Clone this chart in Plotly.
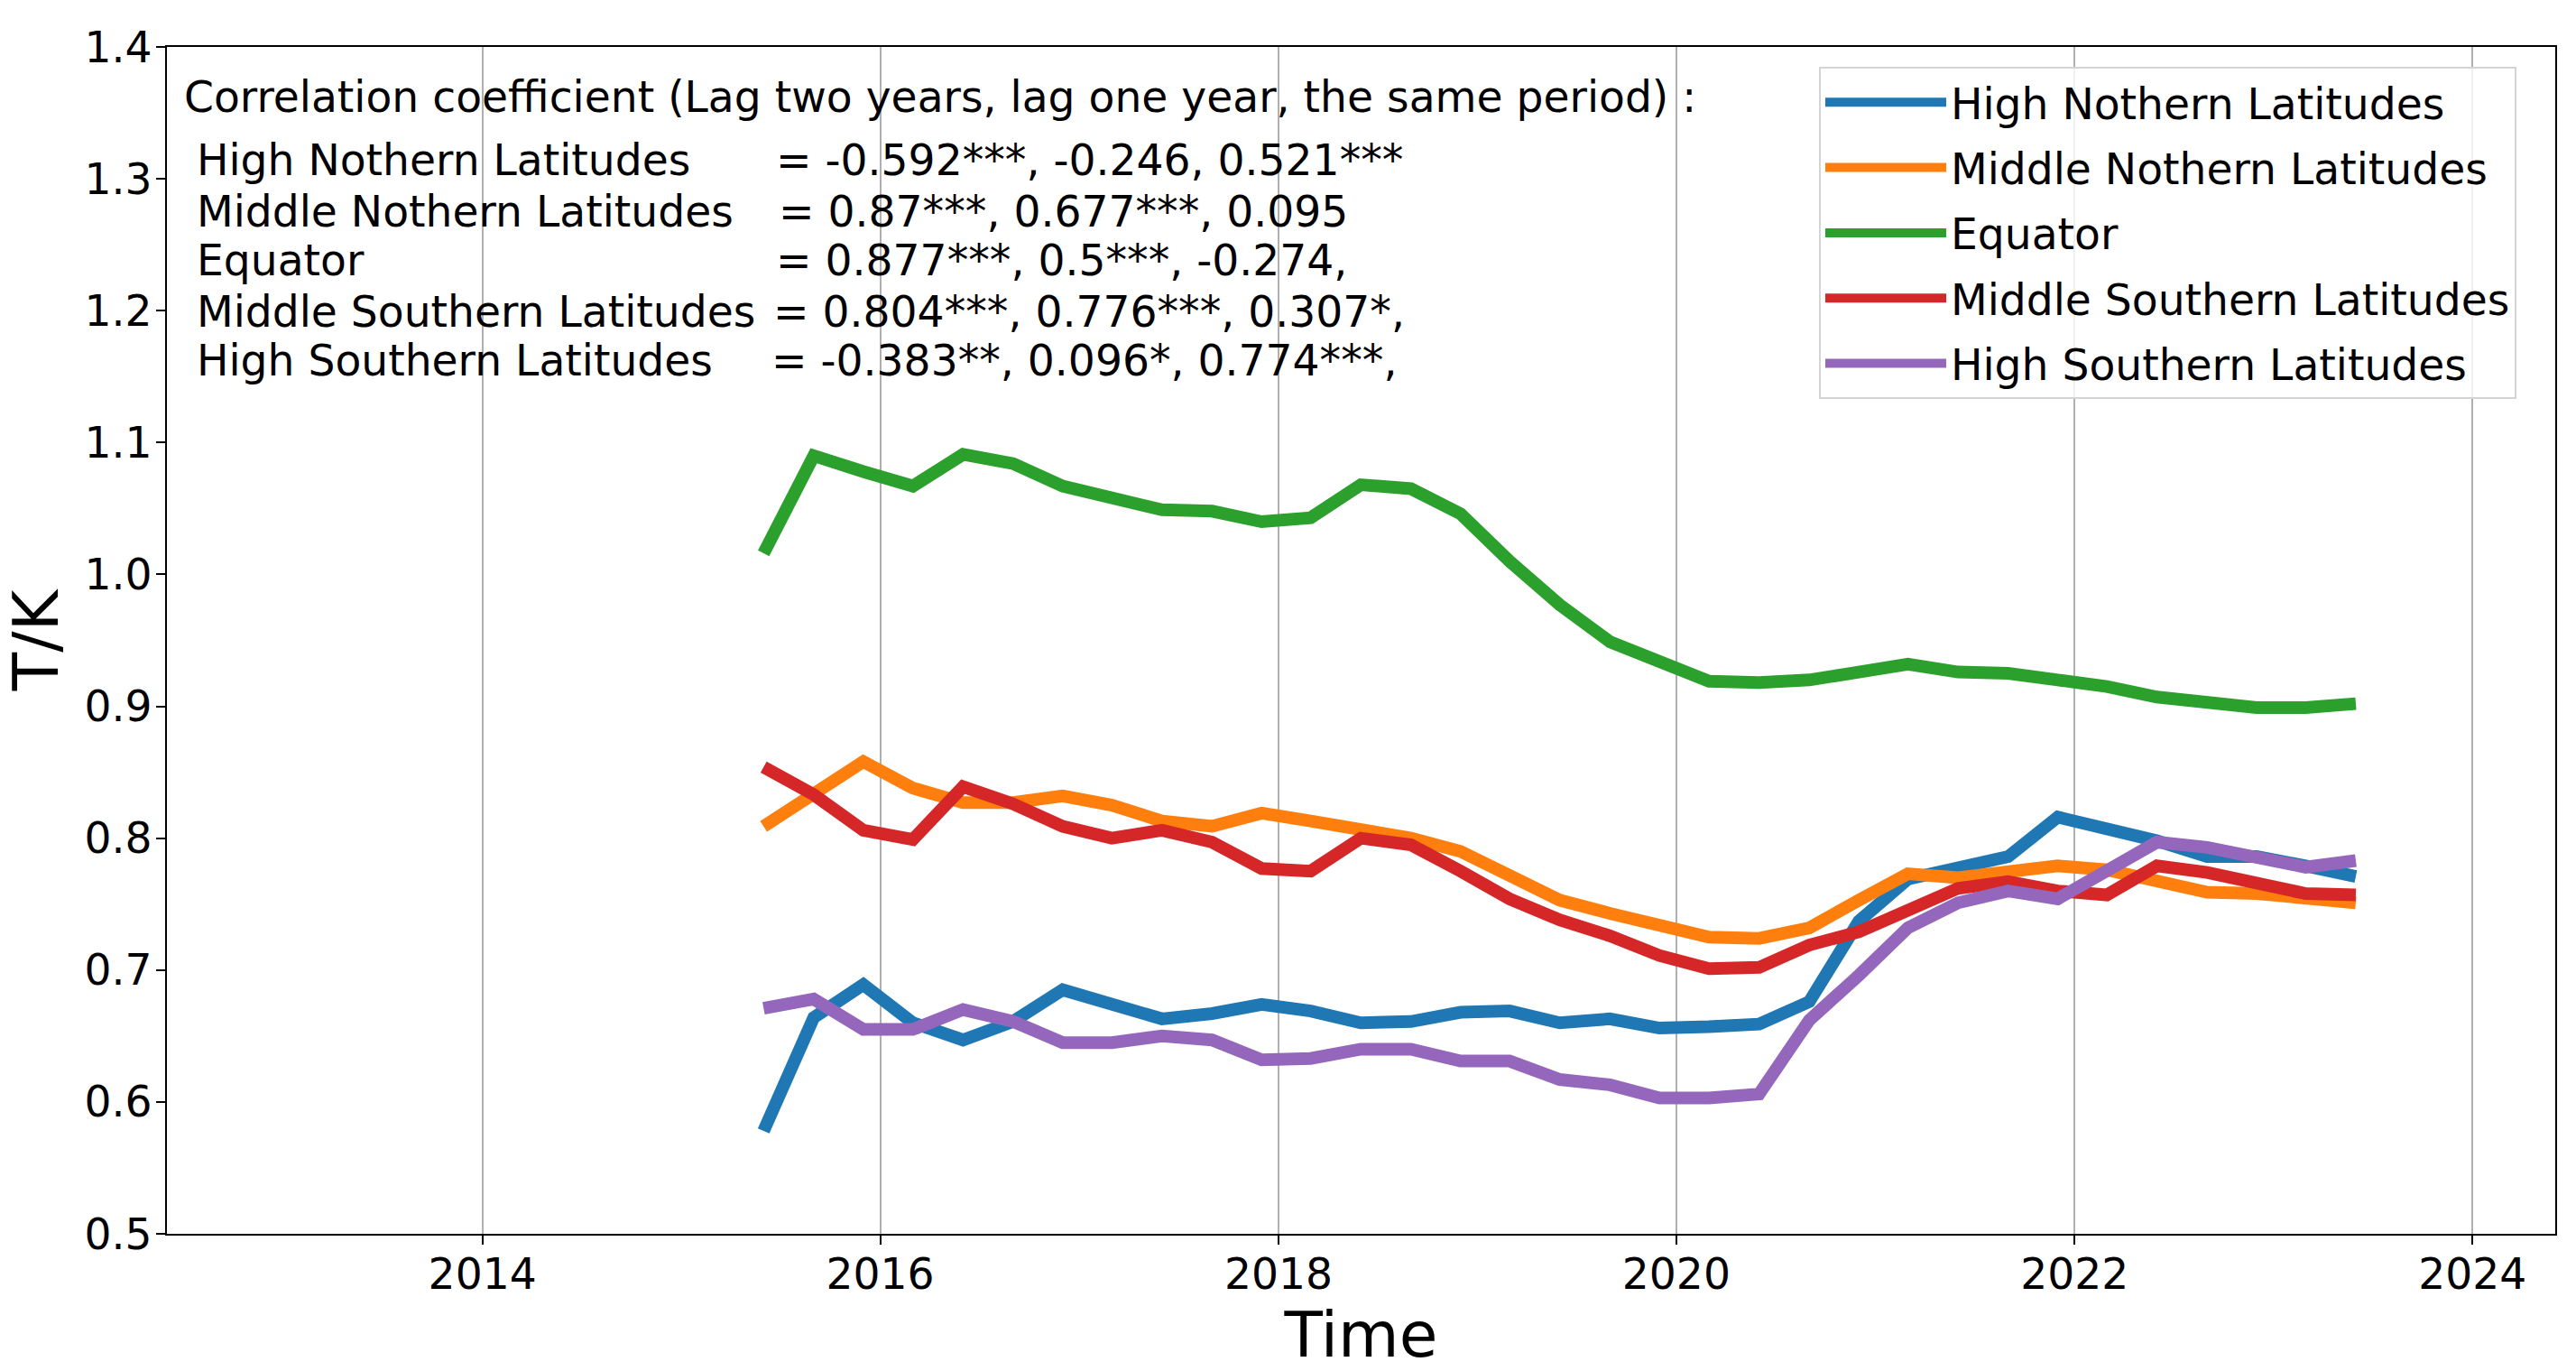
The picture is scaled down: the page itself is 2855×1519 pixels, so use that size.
import plotly.graph_objects as go

# ---------------- data ----------------
dates = [
    "2015-06-01", "2015-09-01", "2015-12-01", "2016-03-01", "2016-06-01", "2016-09-01",
    "2016-12-01", "2017-03-01", "2017-06-01", "2017-09-01", "2017-12-01", "2018-03-01",
    "2018-06-01", "2018-09-01", "2018-12-01", "2019-03-01", "2019-06-01", "2019-09-01",
    "2019-12-01", "2020-03-01", "2020-06-01", "2020-09-01", "2020-12-01", "2021-03-01",
    "2021-06-01", "2021-09-01", "2021-12-01", "2022-03-01", "2022-06-01", "2022-09-01",
    "2022-12-01", "2023-03-01", "2023-06-01",
]

high_north = [0.578, 0.664, 0.689, 0.660, 0.647, 0.661, 0.685, 0.673, 0.663, 0.667, 0.674,
              0.669, 0.660, 0.661, 0.668, 0.669, 0.660, 0.663, 0.656, 0.657, 0.659, 0.676,
              0.737, 0.769, 0.778, 0.786, 0.816, 0.808, 0.798, 0.786, 0.786, 0.779, 0.771]
mid_north = [0.809, 0.834, 0.858, 0.838, 0.827, 0.827, 0.832, 0.825, 0.813, 0.809, 0.819,
             0.813, 0.806, 0.800, 0.790, 0.773, 0.753, 0.743, 0.734, 0.725, 0.724, 0.732,
             0.753, 0.773, 0.770, 0.774, 0.779, 0.776, 0.768, 0.759, 0.758, 0.754, 0.751]
equator = [1.016, 1.090, 1.078, 1.067, 1.091, 1.084, 1.067, 1.058, 1.049, 1.048, 1.040,
           1.043, 1.068, 1.065, 1.046, 1.010, 0.977, 0.949, 0.934, 0.919, 0.918, 0.920,
           0.926, 0.932, 0.926, 0.925, 0.920, 0.915, 0.907, 0.903, 0.899, 0.899, 0.902]
mid_south = [0.854, 0.833, 0.806, 0.799, 0.839, 0.826, 0.809, 0.800, 0.806, 0.797, 0.777,
             0.775, 0.800, 0.795, 0.775, 0.754, 0.738, 0.726, 0.711, 0.701, 0.702, 0.719,
             0.729, 0.746, 0.762, 0.767, 0.760, 0.757, 0.779, 0.774, 0.766, 0.758, 0.757]
high_south = [0.671, 0.678, 0.655, 0.655, 0.670, 0.661, 0.645, 0.645, 0.650, 0.647, 0.632,
              0.633, 0.640, 0.640, 0.631, 0.631, 0.617, 0.613, 0.603, 0.603, 0.606, 0.662,
              0.696, 0.732, 0.751, 0.760, 0.754, 0.776, 0.797, 0.793, 0.786, 0.778, 0.783]

series_names = ["High Nothern Latitudes", "Middle Nothern Latitudes", "Equator",
                "Middle Southern Latitudes", "High Southern Latitudes"]
series_values = [high_north, mid_north, equator, mid_south, high_south]
series_colors = ["#1f77b4", "#ff7f0e", "#2ca02c", "#d62728", "#9467bd"]

corr_title = "Correlation coefficient (Lag two years, lag one year, the same period) :"
corr_values = ["= -0.592***, -0.246, 0.521***",
               "= 0.87***, 0.677***, 0.095",
               "= 0.877***, 0.5***, -0.274,",
               "= 0.804***, 0.776***, 0.307*,",
               "= -0.383**, 0.096*, 0.774***,"]

y_ticks = [0.5, 0.6, 0.7, 0.8, 0.9, 1.0, 1.1, 1.2, 1.3, 1.4]

# ---------------- figure ----------------
W, H = 2855, 1519
ML, MR, MT, MB = 185, 23, 52, 152
PW, PH = W - ML - MR, H - MT - MB
FONT = "DejaVu Sans"
FS = 47.2
FS_TITLE = 69.4

def px_x(x):
    return (x - ML) / PW

def px_y(y):
    return (H - MB - y) / PH

fig = go.Figure()
for i, (name, vals, col) in enumerate(zip(series_names, series_values, series_colors)):
    fig.add_trace(go.Scatter(
        x=dates, y=vals, mode="lines", name=name,
        line=dict(color=col, width=14),
        legendgroup=f"g{i}",
    ))

# correlation text block
fig.add_annotation(text=corr_title, xref="paper", yref="paper",
                   x=px_x(202), y=px_y(107), xanchor="left", yanchor="middle",
                   showarrow=False, font=dict(family=FONT, size=FS, color="black"))
label_y = [178, 234, 289, 345, 400]
value_x = [858, 861, 858, 855, 853]
for name, val, ly, vx in zip(series_names, corr_values, label_y, value_x):
    fig.add_annotation(text=name, xref="paper", yref="paper",
                       x=px_x(216), y=px_y(ly), xanchor="left", yanchor="middle",
                       showarrow=False, font=dict(family=FONT, size=FS, color="black"))
    fig.add_annotation(text=val, xref="paper", yref="paper",
                       x=px_x(vx), y=px_y(ly), xanchor="left", yanchor="middle",
                       showarrow=False, font=dict(family=FONT, size=FS, color="black"))

fig.update_layout(
    width=W, height=H,
    margin=dict(l=ML, r=MR, t=MT, b=MB, pad=0),
    paper_bgcolor="white", plot_bgcolor="white",
    font=dict(family=FONT, size=FS, color="black"),
    legend=dict(
        x=px_x(2016), y=px_y(74), xanchor="left", yanchor="top",
        bgcolor="rgba(255,255,255,0.8)", bordercolor="#d4d4d4", borderwidth=2,
        font=dict(family=FONT, size=FS, color="black"),
        tracegroupgap=8, itemwidth=134,
    ),
    showlegend=True,
)
fig.update_xaxes(
    type="date", range=["2012-06-01", "2024-06-01"],
    tick0="2014-01-01", dtick="M24", tickformat="%Y",
    showgrid=True, gridcolor="#b0b0b0", gridwidth=2,
    showline=True, linecolor="black", linewidth=2, mirror=True,
    ticks="outside", ticklen=10, tickwidth=2, tickcolor="black",
    tickfont=dict(family=FONT, size=FS), ticklabelstandoff=-8,
    title=dict(text="Time", font=dict(family=FONT, size=FS_TITLE), standoff=2),
    zeroline=False,
)
fig.update_yaxes(
    range=[0.5, 1.4], tickvals=y_ticks, tickformat=".1f",
    showgrid=False,
    showline=True, linecolor="black", linewidth=2, mirror=True,
    ticks="outside", ticklen=10, tickwidth=2, tickcolor="black",
    tickfont=dict(family=FONT, size=FS), ticklabelstandoff=-5,
    title=dict(text="T/K", font=dict(family=FONT, size=FS_TITLE), standoff=24),
    zeroline=False,
)

fig.write_html("out.html",
               config={"displayModeBar": False},
               post_script="document.body.style.margin='0';document.body.style.overflow='hidden';")
